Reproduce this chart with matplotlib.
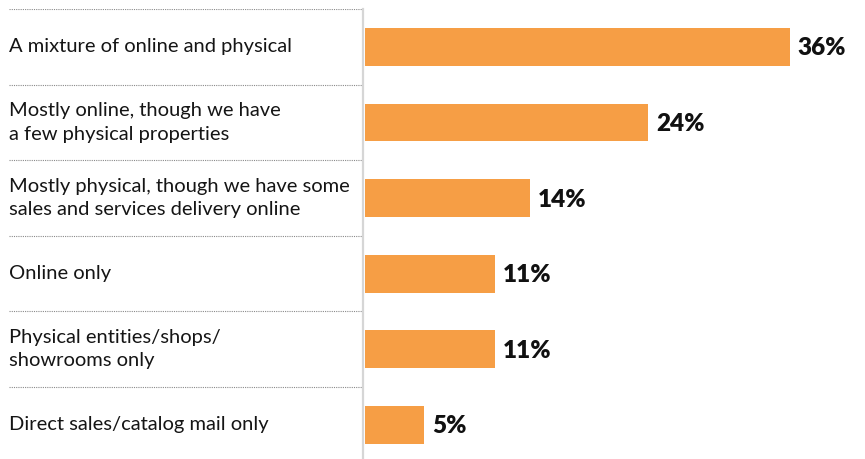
import matplotlib.pyplot as plt

categories = [
    "A mixture of online and physical",
    "Mostly online, though we have\na few physical properties",
    "Mostly physical, though we have some\nsales and services delivery online",
    "Online only",
    "Physical entities/shops/\nshowrooms only",
    "Direct sales/catalog mail only",
]
shares = [36, 24, 14, 11, 11, 5]

BAR_COLOR = '#F69E45'
W, H = 865, 459

plt.rcParams['font.family'] = ['Lato', 'DejaVu Sans']

fig = plt.figure(figsize=(W / 100, H / 100), dpi=100)

# bar panel: value 0 sits just right of the grey axis line
left_px, top_px = 363, 9
ax = fig.add_axes([left_px / W, 0, 1 - left_px / W, (H - top_px) / H])
px_per_unit = 11.8
x0 = -2 / px_per_unit
ax.set_xlim(x0, x0 + (W - left_px) / px_per_unit)
row_px = 75.6
ax.set_ylim(-0.5 + (H - top_px) / row_px, -0.5)
ax.axis('off')

rows = list(range(len(categories)))
ax.barh(rows, shares, height=0.5, color=BAR_COLOR)
for r, v in zip(rows, shares):
    ax.text(v + 8 / px_per_unit, r + 0.02, f"{v}%", va='center', ha='left',
            fontsize=17.5, fontweight='heavy', color='#111111')

# label panel with dotted separators
lab = fig.add_axes([0, 0, left_px / W, (H - top_px) / H])
lab.set_xlim(0, left_px)
lab.set_ylim(ax.get_ylim())
lab.axis('off')
for r, name in zip(rows, categories):
    lab.hlines(r - 0.5, 9, left_px - 1, colors='#8a8a8a', lw=0.8,
               linestyles=(0, (1, 1)))
    lab.text(9, r, name, va='center', ha='left', fontsize=14.5,
             color='#151515', linespacing=1.45)

# grey vertical axis line
fig.add_artist(plt.Line2D([left_px / W, left_px / W], [0, (H - top_px) / H],
                          color='#d6d6d6', lw=1.6))

fig.savefig('out.png', dpi=100)
